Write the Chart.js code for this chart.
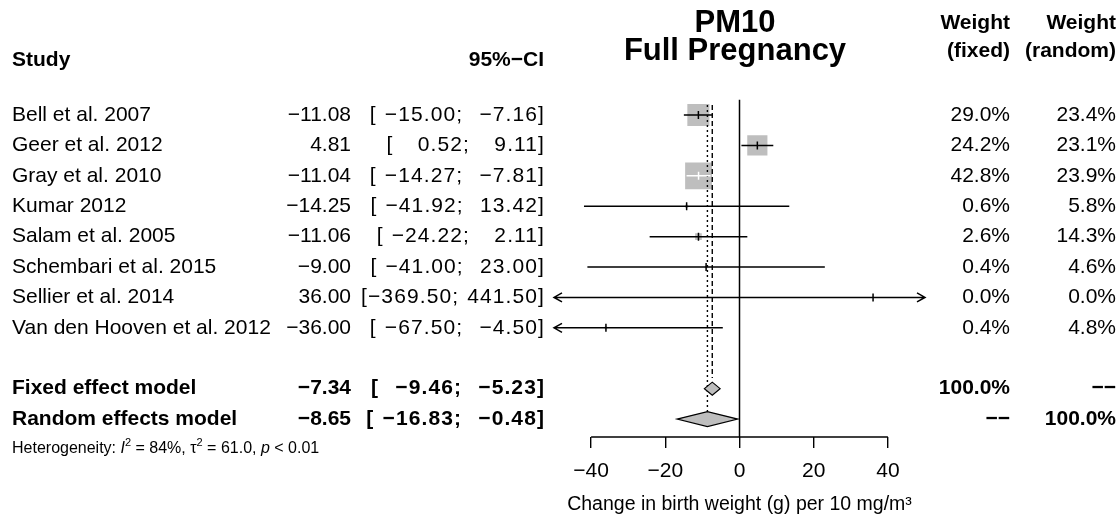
<!DOCTYPE html>
<html>
<head>
<meta charset="utf-8">
<script src="https://cdn.jsdelivr.net/npm/chart.js@4.4.1/dist/chart.umd.min.js"></script>
<style>
  html, body { margin: 0; padding: 0; background: #fff; }
  #wrap { width: 1119px; height: 516px; }
</style>
</head>
<body>
<div id="wrap"><canvas id="forest"></canvas></div>
<script>
// study level data
const studies = ["Bell et al. 2007", "Geer et al. 2012", "Gray et al. 2010", "Kumar 2012",
  "Salam et al. 2005", "Schembari et al. 2015", "Sellier et al. 2014", "Van den Hooven et al. 2012"];
const estimates = [-11.08, 4.81, -11.04, -14.25, -11.06, -9.00, 36.00, -36.00];
const lowerCI = [-15.00, 0.52, -14.27, -41.92, -24.22, -41.00, -369.50, -67.50];
const upperCI = [-7.16, 9.11, -7.81, 13.42, 2.11, 23.00, 441.50, -4.50];
const weightFixed = [29.0, 24.2, 42.8, 0.6, 2.6, 0.4, 0.0, 0.4];
const weightRandom = [23.4, 23.1, 23.9, 5.8, 14.3, 4.6, 0.0, 4.8];

// pooled estimates
const models = ["Fixed effect model", "Random effects model"];
const modelEst = [-7.34, -8.65];
const modelLower = [-9.46, -16.83];
const modelUpper = [-5.23, -0.48];
const modelWeightFixed = ["100.0%", "\u2212\u2212"];
const modelWeightRandom = ["\u2212\u2212", "100.0%"];

const titleLines = ["PM10", "Full Pregnancy"];
const xTicks = [-40, -20, 0, 20, 40];
const xMin = -50, xMax = 50;

const FONT = "'Liberation Sans', Arial, Helvetica, sans-serif";
const GREY = "#bebebe";
const SP = "\u2004"; // a bit wider than a normal space, like the R output

function num(v) {
  return v.toFixed(2).replace("-", "\u2212");
}
function pad(s, n) {
  let out = s;
  for (let k = s.length; k < n; k++) out = SP + out;
  return out;
}
const loW = Math.max(...lowerCI.map(v => num(v).length));
const upW = Math.max(...upperCI.map(v => num(v).length));
function ciText(lo, hi, lw, uw) {
  return "[" + pad(num(lo), lw) + ";" + SP + pad(num(hi), uw) + "]";
}

// row positions on the y scale
const studyRow = studies.map((s, i) => i + 1);
const modelRow = [10, 11];

function sqHalf(w) { return 2.05 * Math.sqrt(w); }

const forestPlugin = {
  id: "forest",
  afterDatasetsDraw(chart) {
    const ctx = chart.ctx;
    const xs = chart.scales.x, ys = chart.scales.y;
    const area = chart.chartArea;
    const X = v => xs.getPixelForValue(v);
    const Y = v => ys.getPixelForValue(v);
    ctx.save();
    ctx.lineCap = "butt";

    // reference lines
    ctx.strokeStyle = "#000";
    ctx.lineWidth = 1.5;
    ctx.beginPath();
    ctx.moveTo(X(0), Y(0.5));
    ctx.lineTo(X(0), area.bottom);
    ctx.stroke();

    ctx.lineWidth = 1.4;
    ctx.setLineDash([5, 3]);
    ctx.beginPath();
    ctx.moveTo(X(modelEst[0]), Y(0.67));
    ctx.lineTo(X(modelEst[0]), Y(9.65));
    ctx.stroke();
    ctx.setLineDash([2, 3]);
    ctx.beginPath();
    ctx.moveTo(X(modelEst[1]), Y(0.67));
    ctx.lineTo(X(modelEst[1]), Y(modelRow[1]) - 7.5);
    ctx.stroke();
    ctx.setLineDash([]);

    // confidence intervals
    studies.forEach((s, i) => {
      const y = Y(studyRow[i]);
      const lo = Math.max(lowerCI[i], xMin), hi = Math.min(upperCI[i], xMax);
      const cx = X(estimates[i]), h = sqHalf(weightFixed[i]);
      const inside = X(lo) >= cx - h && X(hi) <= cx + h;
      ctx.strokeStyle = inside ? "#fff" : "#000";
      ctx.lineWidth = 1.5;
      ctx.beginPath();
      ctx.moveTo(X(lo), y);
      ctx.lineTo(X(hi), y);
      ctx.moveTo(cx, y - 4);
      ctx.lineTo(cx, y + 4);
      if (lowerCI[i] < xMin) {
        ctx.moveTo(X(xMin) + 8, y - 4.5);
        ctx.lineTo(X(xMin), y);
        ctx.lineTo(X(xMin) + 8, y + 4.5);
      }
      if (upperCI[i] > xMax) {
        ctx.moveTo(X(xMax) - 8, y - 4.5);
        ctx.lineTo(X(xMax), y);
        ctx.lineTo(X(xMax) - 8, y + 4.5);
      }
      ctx.stroke();
    });

    // diamonds
    const dh = [6.5, 7.5];
    models.forEach((m, i) => {
      const y = Y(modelRow[i]);
      ctx.beginPath();
      ctx.moveTo(X(modelLower[i]), y);
      ctx.lineTo(X(modelEst[i]), y - dh[i]);
      ctx.lineTo(X(modelUpper[i]), y);
      ctx.lineTo(X(modelEst[i]), y + dh[i]);
      ctx.closePath();
      ctx.fillStyle = GREY;
      ctx.fill();
      ctx.strokeStyle = "#000";
      ctx.lineWidth = 1.2;
      ctx.stroke();
    });

    // axis line from first to last tick
    ctx.lineWidth = 1.4;
    ctx.beginPath();
    ctx.moveTo(X(xTicks[0]), area.bottom);
    ctx.lineTo(X(xTicks[xTicks.length - 1]), area.bottom);
    ctx.stroke();

    // text columns
    ctx.fillStyle = "#000";
    ctx.textBaseline = "middle";
    const txt = (s, x, row, align, bold, size, spacing) => {
      ctx.font = (bold ? "bold " : "") + (size || 21) + "px " + FONT;
      ctx.letterSpacing = spacing || "0px";
      ctx.textAlign = align;
      ctx.fillText(s, x, Y(row));
    };
    const colName = 12, colEst = 351, colCI = 545, colWF = 1010, colWR = 1116;

    // title over the plot column
    txt(titleLines[0], 735, -2.0, "center", true, 31);
    txt(titleLines[1], 735, -1.1, "center", true, 31);

    txt("Study", colName, -0.8, "left", true);
    txt("95%\u2212CI", colCI - 1, -0.8, "right", true);
    txt("Weight", colWF, -2.02, "right", true);
    txt("(fixed)", colWF, -1.1, "right", true);
    txt("Weight", colWR, -2.02, "right", true);
    txt("(random)", colWR, -1.1, "right", true);

    studies.forEach((s, i) => {
      const r = studyRow[i];
      txt(s, colName, r, "left", false);
      txt(num(estimates[i]), colEst, r, "right", false);
      txt(ciText(lowerCI[i], upperCI[i], loW, upW), colCI, r, "right", false, 21, "1.1px");
      txt(weightFixed[i].toFixed(1) + "%", colWF, r, "right", false);
      txt(weightRandom[i].toFixed(1) + "%", colWR, r, "right", false);
    });
    models.forEach((m, i) => {
      const r = modelRow[i];
      txt(m, colName, r, "left", true);
      txt(num(modelEst[i]), colEst, r, "right", true);
      txt(ciText(modelLower[i], modelUpper[i], 7, 6), colCI, r, "right", true, 21, "1.1px");
      txt(modelWeightFixed[i], colWF, r, "right", true);
      txt(modelWeightRandom[i], colWR, r, "right", true);
    });
    ctx.letterSpacing = "0px";

    // heterogeneity line with italics and superscripts
    const hy = Y(11.97);
    let hx = colName;
    const parts = [
      ["Heterogeneity: ", "", 0], ["I", "italic ", 0], ["2", "", 1], [" = 84%, \u03c4", "", 0],
      ["2", "", 1], [" = 61.0, ", "", 0], ["p", "italic ", 0], [" < 0.01", "", 0]
    ];
    ctx.textAlign = "left";
    parts.forEach(([s, style, sup]) => {
      ctx.font = style + (sup ? 11 : 16) + "px " + FONT;
      ctx.fillText(s, hx, sup ? hy - 6 : hy);
      hx += ctx.measureText(s).width;
    });
    ctx.restore();
  }
};

new Chart(document.getElementById("forest"), {
  type: "scatter",
  data: {
    datasets: [{
      label: "Studies",
      data: studies.map((s, i) => ({ x: estimates[i], y: studyRow[i] })),
      pointStyle: "rect",
      pointRadius: c => 2.9 * Math.sqrt(weightFixed[c.dataIndex]),
      pointHoverRadius: c => 2.9 * Math.sqrt(weightFixed[c.dataIndex]),
      backgroundColor: GREY,
      borderWidth: 0
    }]
  },
  options: {
    responsive: true,
    maintainAspectRatio: false,
    animation: false,
    events: [],
    layout: { padding: { left: 554, right: 194, top: 84.6, bottom: 0 } },
    plugins: {
      legend: { display: false },
      tooltip: { enabled: false }
    },
    scales: {
      x: {
        type: "linear",
        min: xMin,
        max: xMax,
        afterBuildTicks: s => { s.ticks = xTicks.map(v => ({ value: v })); },
        afterFit: s => { s.height = 79; },
        border: { display: false },
        grid: { drawOnChartArea: false, drawTicks: true, tickLength: 11, color: "#000", lineWidth: 1.4 },
        ticks: {
          color: "#000", padding: 11, maxRotation: 0, autoSkip: false,
          font: { family: FONT, size: 21 },
          callback: v => String(v).replace("-", "\u2212")
        },
        title: {
          display: true,
          text: "Change in birth weight (g) per 10 mg/m\u00b3",
          color: "#000",
          font: { family: FONT, size: 19.5 },
          padding: { top: 0, bottom: 0 }
        }
      },
      y: {
        type: "linear",
        display: false,
        reverse: true,
        min: 0,
        max: 11.59
      }
    }
  },
  plugins: [forestPlugin]
});
</script>
</body>
</html>
